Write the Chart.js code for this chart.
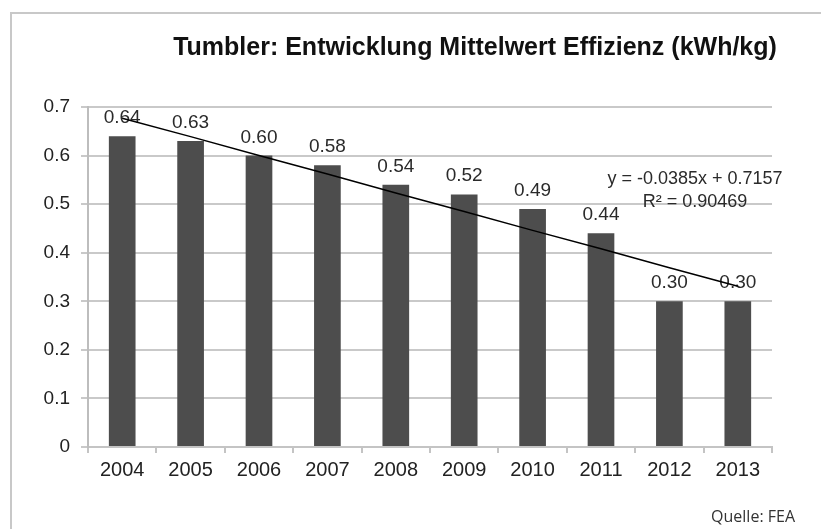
<!DOCTYPE html>
<html>
<head>
<meta charset="utf-8">
<script src="https://cdn.jsdelivr.net/npm/chart.js@4"></script>
<style>
  html, body { margin: 0; padding: 0; background: #fff; }
  #wrap { position: relative; width: 821px; height: 529px; }
  #frame {
    position: absolute; left: 10px; top: 12px; right: 0; bottom: 0;
    border-top: 2px solid #c8c8c8; border-left: 2px solid #c8c8c8;
  }
  canvas { position: absolute; left: 0; top: 0; }
</style>
</head>
<body>
<div id="wrap">
  <div id="frame"></div>
  <canvas id="chart" width="821" height="529"></canvas>
</div>
<script>
// data
const years = ['2004', '2005', '2006', '2007', '2008', '2009', '2010', '2011', '2012', '2013'];
const efficiency = [0.64, 0.63, 0.60, 0.58, 0.54, 0.52, 0.49, 0.44, 0.30, 0.30];
// linear trend line as drawn (y = -0.0385x + 0.7157)
const trend = [0.677, 0.639, 0.600, 0.562, 0.523, 0.485, 0.446, 0.408, 0.369, 0.331];
const yMin = 0, yMax = 0.7, yStep = 0.1;

const titleText = 'Tumbler: Entwicklung Mittelwert Effizienz (kWh/kg)';
const equationText = 'y = -0.0385x + 0.7157';
const r2Text = 'R² = 0.90469';
const sourceText = 'Quelle: FEA';

const FONT = '"Liberation Sans", Arial, sans-serif';

// value labels above bars, drawn before the trend line so the line crosses them
const barLabels = {
    id: 'barLabels',
    afterDatasetDraw(chart, args) {
        if (args.meta.type !== 'bar') return;
        const ctx = chart.ctx;
        ctx.save();
        ctx.font = '19px ' + FONT;
        ctx.fillStyle = '#2a2a2a';
        ctx.textAlign = 'center';
        ctx.textBaseline = 'alphabetic';
        args.meta.data.forEach((bar, i) => {
            ctx.fillText(efficiency[i].toFixed(2), bar.x, bar.y - 13);
        });
        ctx.restore();
    }
};

// title, trend equation and source note
const textBits = {
    id: 'textBits',
    afterDraw(chart) {
        const ctx = chart.ctx;
        ctx.save();
        ctx.textAlign = 'center';
        ctx.textBaseline = 'alphabetic';

        ctx.font = 'bold 25px ' + FONT;
        ctx.fillStyle = '#111';
        ctx.fillText(titleText, 475, 55);

        ctx.font = '18px ' + FONT;
        ctx.fillStyle = '#2a2a2a';
        ctx.fillText(equationText, 695, 184);
        ctx.fillText(r2Text, 695, 207);

        ctx.font = '16px "Open Sans", "Noto Sans", sans-serif';
        ctx.fillStyle = '#333';
        ctx.textAlign = 'right';
        ctx.fillText(sourceText, 795, 522);
        ctx.restore();
    }
};

new Chart(document.getElementById('chart'), {
    type: 'bar',
    data: {
        labels: years,
        datasets: [
            {
                type: 'bar',
                data: efficiency,
                backgroundColor: '#4d4d4d',
                barPercentage: 0.39,
                categoryPercentage: 1,
                order: 2
            },
            {
                type: 'line',
                data: trend,
                borderColor: '#000',
                borderWidth: 1.5,
                pointRadius: 0,
                fill: false,
                tension: 0,
                order: 1
            }
        ]
    },
    options: {
        responsive: false,
        devicePixelRatio: 1,
        animation: false,
        layout: { padding: { left: 0, right: 49, top: 107, bottom: 42 } },
        plugins: {
            legend: { display: false },
            tooltip: { enabled: false },
            title: { display: false }
        },
        scales: {
            x: {
                afterFit: (s) => { s.height = 40; },
                grid: {
                    drawOnChartArea: false, drawTicks: true, tickLength: 6,
                    color: '#c4c4c4', lineWidth: 2, offset: true
                },
                border: { display: true, color: '#c4c4c4', width: 2 },
                ticks: { color: '#222', font: { family: FONT, size: 20 }, padding: 5 }
            },
            y: {
                min: yMin, max: yMax,
                afterFit: (s) => { s.width = 88; },
                grid: { color: '#c9c9c9', lineWidth: 2, tickLength: 7 },
                border: { display: true, color: '#bdbdbd', width: 2 },
                ticks: {
                    stepSize: yStep,
                    color: '#222',
                    font: { family: FONT, size: 19 },
                    padding: 11,
                    callback: (v) => v === 0 ? '0' : v.toFixed(1)
                }
            }
        }
    },
    plugins: [barLabels, textBits]
});
</script>
</body>
</html>
